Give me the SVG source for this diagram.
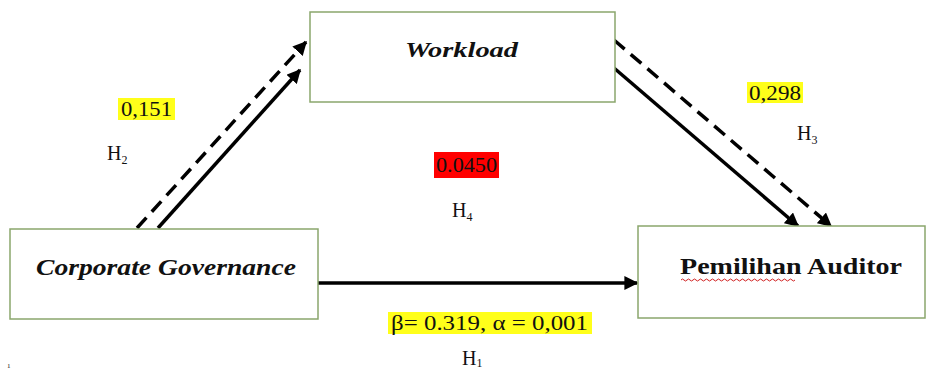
<svg xmlns="http://www.w3.org/2000/svg" width="928" height="371" viewBox="0 0 928 371">
<style>
.box{fill:#fff;stroke:#8aa66c;stroke-width:1.5}
text{font-family:"Liberation Serif",serif;fill:#111}
.lbl{font-weight:bold}
.t{font-size:20px}
.h{font-size:20px}
.sub{font-size:12px}
.solid{stroke:#000;stroke-width:3.5;fill:none}
.dash{stroke:#000;stroke-width:3.5;fill:none;stroke-dasharray:14,8}
</style>
<defs>
<marker id="ah" viewBox="0 0 10 10" refX="9" refY="5" markerWidth="4" markerHeight="4" orient="auto" markerUnits="strokeWidth">
<path d="M0,0 L10,5 L0,10 z" fill="#000"/>
</marker>
</defs>
<rect width="928" height="371" fill="#fff"/>
<g id="connectors">
<line class="solid" x1="158" y1="228" x2="300" y2="70" marker-end="url(#ah)"/>
<line class="dash" x1="137" y1="228" x2="306" y2="42" marker-end="url(#ah)"/>
<line class="solid" x1="614" y1="68" x2="798" y2="226" marker-end="url(#ah)"/>
<line class="dash" x1="614" y1="40" x2="831" y2="226" marker-end="url(#ah)"/>
<line class="solid" x1="318" y1="283" x2="637" y2="283" marker-end="url(#ah)"/>
</g>
<g id="workload">
<rect class="box" x="310" y="12" width="305" height="90"/>
<text class="lbl" x="405" y="57" font-family="Liberation Serif, serif" font-size="22" font-style="italic" textLength="113" lengthAdjust="spacingAndGlyphs">Workload</text>
</g>
<g id="corporate-governance">
<rect class="box" x="10" y="229" width="308" height="90"/>
<text class="lbl" x="36" y="275" font-family="Liberation Serif, serif" font-size="23" font-style="italic" textLength="260" lengthAdjust="spacingAndGlyphs">Corporate Governance</text>
</g>
<g id="pemilihan-auditor">
<rect class="box" x="638" y="226" width="287" height="92"/>
<text class="lbl" x="680" y="274" font-family="Liberation Serif, serif" font-size="24" textLength="222" lengthAdjust="spacingAndGlyphs">Pemilihan Auditor</text>
<path d="M681,280 q1.5,-2 3,0 t3,0 t3,0 t3,0 t3,0 t3,0 t3,0 t3,0 t3,0 t3,0 t3,0 t3,0 t3,0 t3,0 t3,0 t3,0 t3,0 t3,0 t3,0 t3,0 t3,0 t3,0 t3,0 t3,0 t3,0 t3,0 t3,0 t3,0 t3,0 t3,0 t3,0 t3,0 t3,0 t3,0 t3,0 t3,0 t3,0 t3,0" fill="none" stroke="#d02020" stroke-width="1"/>
</g>
<g id="labels">
<rect x="118" y="98" width="57" height="22" fill="#ffff1a"/>
<text class="t" x="121" y="116" font-family="Liberation Serif, serif" textLength="51" lengthAdjust="spacingAndGlyphs">0,151</text>
<text class="h" x="107" y="160" font-family="Liberation Serif, serif">H<tspan class="sub" dy="4">2</tspan></text>
<rect x="747" y="82" width="56" height="21" fill="#ffff1a"/>
<text class="t" x="749" y="100" font-family="Liberation Serif, serif" textLength="52" lengthAdjust="spacingAndGlyphs">0,298</text>
<text class="h" x="797" y="140" font-family="Liberation Serif, serif">H<tspan class="sub" dy="4">3</tspan></text>
<rect x="434" y="152" width="65" height="26" fill="#ff0000"/>
<text class="t" x="436" y="172" font-family="Liberation Serif, serif" textLength="61" lengthAdjust="spacingAndGlyphs">0.0450</text>
<text class="h" x="452" y="217" font-family="Liberation Serif, serif">H<tspan class="sub" dy="4">4</tspan></text>
<rect x="388" y="312" width="204" height="22" fill="#ffff1a"/>
<text class="t" x="391" y="330" font-family="Liberation Serif, serif" textLength="197" lengthAdjust="spacingAndGlyphs">β= 0.319, α = 0,001</text>
<text class="h" x="462" y="365" font-family="Liberation Serif, serif">H<tspan class="sub" dy="2">1</tspan></text>
<text x="7" y="368" font-family="Liberation Sans, sans-serif" font-size="7" fill="#999">1</text>
</g>
</svg>
